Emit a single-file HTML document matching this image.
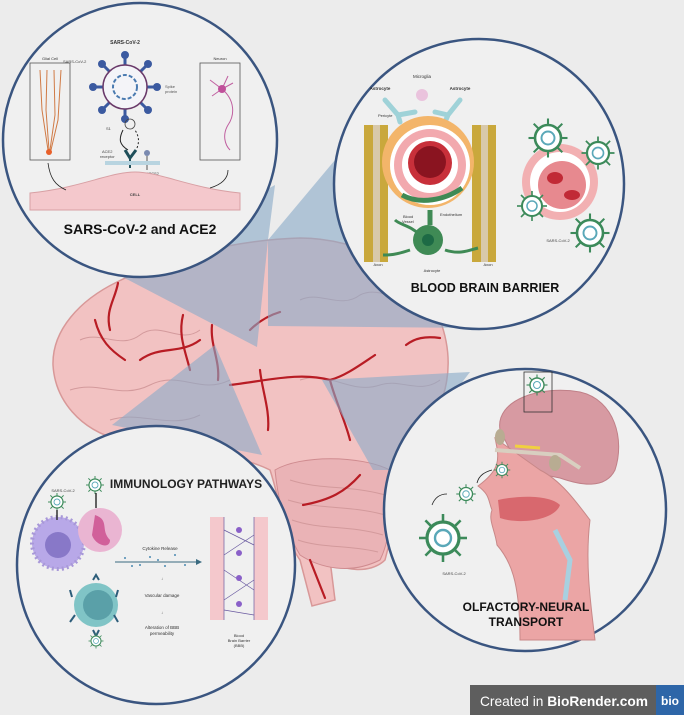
<!DOCTYPE html>
<html><head><meta charset="utf-8"><style>
html,body{margin:0;padding:0;background:#ececec;}
svg{display:block;font-family:"Liberation Sans",sans-serif;}
</style></head><body>
<svg width="684" height="715" viewBox="0 0 684 715" xmlns="http://www.w3.org/2000/svg">
<rect width="684" height="715" fill="#ececec"/>
<defs>
<g id="vir"><circle r="10" fill="#fff" stroke="#3c8a5a" stroke-width="2"/><g stroke="#3c8a5a" stroke-width="1.6"><line x1="0" y1="-10" x2="0" y2="-15"/><line x1="0" y1="10" x2="0" y2="15"/><line x1="-10" y1="0" x2="-15" y2="0"/><line x1="10" y1="0" x2="15" y2="0"/><line x1="7" y1="7" x2="11" y2="11"/><line x1="-7" y1="7" x2="-11" y2="11"/><line x1="7" y1="-7" x2="11" y2="-11"/><line x1="-7" y1="-7" x2="-11" y2="-11"/></g><circle r="5" fill="none" stroke="#5aa8b8" stroke-width="1.5"/></g>
</defs>

<!-- Brain -->
<g>
<path d="M117,282 C160,260 230,240 300,238 C360,238 420,270 440,320 C455,360 450,400 420,440 C410,470 395,520 385,560 C370,575 340,570 330,560 L335,600 L312,606 L300,560 C285,540 280,500 270,470 C230,450 170,450 120,440 C80,430 55,400 53,365 C52,330 80,300 117,282 Z" fill="#f2c2c2" stroke="#d89898" stroke-width="1.5"/>
<path d="M275,470 C300,455 360,455 390,470 C395,500 390,540 380,560 C350,575 320,568 300,555 C285,530 278,500 275,470Z" fill="#eab3b6" stroke="#cf8b8f"/>
<g fill="none" stroke="#d39a9c" stroke-width="1">
<path d="M80,340 C100,330 120,350 140,335 C160,320 180,345 200,330"/>
<path d="M70,390 C100,380 120,400 150,385 C180,370 200,395 230,380"/>
<path d="M110,420 C140,410 170,430 200,415"/>
<path d="M300,300 C320,290 340,310 360,295 C380,285 400,305 420,300"/>
<path d="M300,380 C330,370 350,395 380,385 C400,378 420,395 440,380"/>
<path d="M290,480 C320,490 350,485 385,495"/><path d="M288,500 C320,510 350,505 385,515"/><path d="M292,520 C320,530 350,525 383,535"/><path d="M298,540 C320,548 350,545 378,552"/>
</g>
<g fill="none" stroke="#b81c24" stroke-width="2.2" stroke-linecap="round">
<path d="M118,283 C115,300 105,310 110,330"/><path d="M95,320 C100,340 110,350 125,360"/>
<path d="M183,315 C178,335 185,350 190,370"/><path d="M212,325 C210,345 220,360 218,380"/>
<path d="M230,385 C270,380 300,372 330,380 C345,376 360,365 375,355"/>
<path d="M330,380 C335,400 345,420 350,440"/><path d="M260,370 C262,390 270,410 268,430"/>
<path d="M250,330 C260,320 270,315 280,312"/><path d="M406,345 C415,338 425,336 440,338"/>
<path d="M303,505 C330,500 345,492 360,475"/><path d="M310,560 L325,598"/>
<path d="M140,360 C160,345 180,355 200,340"/>
</g>
</g>

<!-- wedges -->
<g fill="#88aac8" fill-opacity="0.6">
<polygon points="113,272 275,185 268,240 257,347"/>
<polygon points="268,240 335,160 480,328 268,326"/>
<polygon points="215,345 112,425 262,455"/>
<polygon points="322,380 470,372 395,470 373,470"/>
</g>

<!-- Circles -->
<g fill="#f0f0f0" stroke="#3a5580" stroke-width="2.5">
<circle cx="140" cy="140" r="137"/>
<circle cx="479" cy="184" r="145"/>
<circle cx="156" cy="565" r="139"/>
<circle cx="525" cy="510" r="141"/>
</g>

<!-- TL content -->
<g>
<text x="125" y="44" font-size="5" text-anchor="middle" font-weight="bold" fill="#333">SARS-CoV-2</text>
<rect x="30" y="63" width="40" height="97" fill="none" stroke="#555" stroke-width="0.8"/>
<text x="50" y="60" font-size="4" text-anchor="middle" fill="#333">Glial Cell</text>
<g stroke="#d07a45" stroke-width="1" fill="none"><path d="M40,70 L42,110 L48,150"/><path d="M47,70 L46,110 L49,150"/><path d="M54,70 L55,115 L50,150"/><path d="M61,70 L58,120 L51,150"/></g>
<circle cx="49" cy="152" r="3" fill="#e8602a"/>
<rect x="200" y="63" width="40" height="97" fill="none" stroke="#555" stroke-width="0.8"/>
<text x="220" y="60" font-size="4" text-anchor="middle" fill="#333">Neuron</text>
<g stroke="#c060a0" stroke-width="1" fill="none"><path d="M222,89 C235,100 235,115 228,125 C222,135 225,145 230,150"/><path d="M222,89 L210,80 M222,89 L212,96 M222,89 L228,76 M222,89 L233,83"/></g>
<circle cx="222" cy="89" r="4" fill="#c0509a"/>
<g stroke="#3b5aa0" stroke-width="3">
<line x1="125" y1="87" x2="125" y2="55"/><line x1="125" y1="87" x2="125" y2="119"/><line x1="125" y1="87" x2="93" y2="87"/><line x1="125" y1="87" x2="157" y2="87"/><line x1="125" y1="87" x2="102" y2="64"/><line x1="125" y1="87" x2="148" y2="64"/><line x1="125" y1="87" x2="102" y2="110"/><line x1="125" y1="87" x2="148" y2="110"/>
</g>
<g fill="#3b5aa0"><circle cx="125" cy="55" r="4"/><circle cx="125" cy="119" r="4"/><circle cx="93" cy="87" r="4"/><circle cx="157" cy="87" r="4"/><circle cx="102" cy="64" r="4"/><circle cx="148" cy="64" r="4"/><circle cx="102" cy="110" r="4"/><circle cx="148" cy="110" r="4"/></g>
<circle cx="125" cy="87" r="22" fill="#f4f4f8" stroke="#6a3a6a" stroke-width="1.5"/>
<circle cx="125" cy="87" r="12" fill="none" stroke="#4a7ab0" stroke-width="2" stroke-dasharray="4 2"/>
<text x="63" y="63" font-size="4" fill="#444">SARS-CoV-2</text>
<text x="165" y="88" font-size="4" fill="#555">Spike</text><text x="165" y="93" font-size="4" fill="#555">protein</text>
<circle cx="130" cy="124" r="5" fill="none" stroke="#444" stroke-width="0.8"/>
<text x="106" y="130" font-size="4" fill="#444">S1</text>
<path d="M123,130 C118,140 120,145 128,150" fill="none" stroke="#222"/>
<path d="M137,148 C140,140 138,135 135,130" fill="none" stroke="#222" stroke-dasharray="2 2"/>
<path d="M125,150 L130,158 L136,150" fill="none" stroke="#1f4f5a" stroke-width="3"/>
<line x1="130" y1="158" x2="130" y2="168" stroke="#1f4f5a" stroke-width="2"/>
<circle cx="147" cy="153" r="3" fill="#7a8ab0"/><line x1="147" y1="156" x2="147" y2="170" stroke="#555"/>
<text x="102" y="153" font-size="4" fill="#444">ACE2</text><text x="100" y="158" font-size="4" fill="#444">receptor</text>
<rect x="105" y="161" width="55" height="4" fill="#b8d4e0"/>
<text x="140" y="175" font-size="4" fill="#444">TMPRSS2</text>
<path d="M30,193 C80,188 110,172 135,172 C160,172 190,188 240,193 L240,210 L30,210 Z" fill="#f4c8cc" stroke="#d8a0a4"/>
<text x="135" y="196" font-size="4" font-weight="bold" text-anchor="middle" fill="#444">CELL</text>
<path d="M48,163 C50,178 55,185 66,190" fill="none" stroke="#222" stroke-width="0.8"/>
<path d="M228,170 C228,180 220,185 210,188" fill="none" stroke="#222" stroke-width="0.8"/>
<text x="140" y="234" font-size="14" font-weight="bold" text-anchor="middle" fill="#111">SARS-CoV-2 and ACE2</text>
</g>

<!-- BBB content -->
<g>
<text x="422" y="78" font-size="4.5" text-anchor="middle" fill="#333">Microglia</text>
<text x="380" y="90" font-size="4.5" font-weight="bold" text-anchor="middle" fill="#333">Astrocyte</text>
<text x="460" y="90" font-size="4.5" font-weight="bold" text-anchor="middle" fill="#333">Astrocyte</text>
<text x="378" y="117" font-size="4" fill="#333">Pericyte</text>
<circle cx="422" cy="95" r="6" fill="#eac3dd"/>
<path d="M385,100 L398,115 L415,112 M398,115 L400,122" fill="none" stroke="#9fd2d8" stroke-width="5" stroke-linecap="round"/>
<path d="M460,100 L448,115 L435,112 M448,115 L445,122" fill="none" stroke="#9fd2d8" stroke-width="5" stroke-linecap="round"/>
<rect x="364" y="125" width="24" height="137" fill="#c9a83c"/><rect x="373" y="125" width="7" height="137" fill="#d8c9aa"/>
<rect x="472" y="125" width="24" height="137" fill="#c9a83c"/><rect x="481" y="125" width="7" height="137" fill="#d8c9aa"/>
<circle cx="428" cy="162" r="46" fill="#f3b56a"/>
<circle cx="430" cy="165" r="40" fill="#fff"/>
<circle cx="430" cy="165" r="36" fill="#f2a9ae"/>
<circle cx="430" cy="165" r="28" fill="#fff"/>
<circle cx="430" cy="163" r="22" fill="#c8303a"/>
<circle cx="430" cy="162" r="16" fill="#8a1420"/>
<path d="M402,195 C420,205 445,200 462,188 M430,210 L430,225" fill="none" stroke="#3f8a55" stroke-width="5"/>
<path d="M410,250 C395,255 390,255 383,255 M445,250 C460,255 470,250 478,248 M420,235 C410,225 400,225 395,220" fill="none" stroke="#3f8a55" stroke-width="3"/>
<circle cx="428" cy="240" r="15" fill="#3f8a55"/><circle cx="428" cy="240" r="6" fill="#1d6a45"/>
<text x="403" y="218" font-size="4" fill="#333">Blood</text><text x="402" y="223" font-size="4" fill="#333">Vessel</text>
<text x="440" y="216" font-size="4" fill="#333">Endothelium</text>
<text x="378" y="266" font-size="4" text-anchor="middle" fill="#333">Axon</text>
<text x="488" y="266" font-size="4" text-anchor="middle" fill="#333">Axon</text>
<text x="432" y="272" font-size="4" text-anchor="middle" fill="#333">Astrocyte</text>
<circle cx="560" cy="182" r="38" fill="#f2b0b2"/>
<circle cx="560" cy="182" r="30" fill="#fff"/>
<circle cx="562" cy="185" r="24" fill="#e7898f"/>
<ellipse cx="555" cy="178" rx="8" ry="6" fill="#c12a36"/><ellipse cx="572" cy="195" rx="8" ry="5" fill="#c12a36"/>
<use href="#vir" transform="translate(548,138) scale(1.3)"/>
<use href="#vir" transform="translate(598,153) scale(1.1)"/>
<use href="#vir" transform="translate(532,206) scale(1)"/>
<use href="#vir" transform="translate(590,233) scale(1.3)"/>
<text x="558" y="242" font-size="4" text-anchor="middle" fill="#444">SARS-CoV-2</text>
<text x="485" y="292" font-size="12.5" font-weight="bold" text-anchor="middle" fill="#111">BLOOD BRAIN BARRIER</text>
</g>

<!-- Immunology content -->
<g>
<text x="186" y="488" font-size="12" font-weight="bold" text-anchor="middle" fill="#222">IMMUNOLOGY PATHWAYS</text>
<text x="63" y="492" font-size="4" text-anchor="middle" fill="#444">SARS-CoV-2</text>
<use href="#vir" transform="translate(57,502) scale(0.6)"/>
<use href="#vir" transform="translate(95,485) scale(0.6)"/>
<circle cx="58" cy="543" r="26" fill="#b8a8e8" stroke="#a898d8" stroke-width="4" stroke-dasharray="2 3"/>
<circle cx="58" cy="545" r="13" fill="#8878c8"/>
<line x1="57" y1="510" x2="57" y2="520" stroke="#333" stroke-width="1.5"/>
<circle cx="100" cy="530" r="22" fill="#eab5d2"/>
<path d="M95,515 C110,520 100,530 110,540 C110,550 95,545 92,535 Z" fill="#d1609a"/>
<line x1="96" y1="493" x2="96" y2="508" stroke="#333" stroke-width="1.5"/>
<circle cx="96" cy="605" r="22" fill="#80c4c6"/><circle cx="98" cy="605" r="15" fill="#5aa0a8"/>
<g stroke="#2d5d7a" stroke-width="2" fill="none"><path d="M93,580 L96,575 L99,580"/><path d="M70,590 L72,597"/><path d="M118,590 L116,597"/><path d="M70,622 L75,615"/><path d="M118,622 L114,615"/><path d="M93,630 L96,636 L99,630"/></g>
<use href="#vir" transform="translate(96,641) scale(0.5)"/>
<text x="160" y="550" font-size="4.5" text-anchor="middle" fill="#333">Cytokine Release</text>
<line x1="115" y1="562" x2="200" y2="562" stroke="#3a6a80" stroke-width="1"/>
<path d="M196,559 L202,562 L196,565 Z" fill="#3a6a80"/>
<g fill="#4a8ab0"><circle cx="125" cy="558" r="1"/><circle cx="140" cy="565" r="1"/><circle cx="150" cy="557" r="1"/><circle cx="165" cy="566" r="1"/><circle cx="175" cy="555" r="1"/><circle cx="185" cy="565" r="1"/><circle cx="132" cy="566" r="1"/><circle cx="158" cy="560" r="1"/></g>
<text x="161" y="580" font-size="4" fill="#333">↓</text>
<text x="162" y="597" font-size="4.5" text-anchor="middle" fill="#333">Vascular damage</text>
<text x="161" y="614" font-size="4" fill="#333">↓</text>
<text x="162" y="629" font-size="4.5" text-anchor="middle" fill="#333">Alteration of BBB</text>
<text x="162" y="635" font-size="4.5" text-anchor="middle" fill="#333">permeability</text>
<rect x="210" y="517" width="14" height="103" fill="#f4c8cc"/><rect x="254" y="517" width="14" height="103" fill="#f4c8cc"/>
<g stroke="#6a5aa0" stroke-width="0.7" fill="none"><line x1="224" y1="517" x2="224" y2="620"/><line x1="254" y1="517" x2="254" y2="620"/><path d="M224,530 L254,545 M224,555 L254,535 M224,570 L254,590 M224,600 L254,580 M224,610 L254,615"/></g>
<g fill="#8a60c8"><circle cx="239" cy="530" r="3"/><circle cx="239" cy="553" r="3"/><circle cx="239" cy="578" r="3"/><circle cx="239" cy="604" r="3"/></g>
<text x="239" y="637" font-size="4" text-anchor="middle" fill="#333">Blood</text>
<text x="239" y="642" font-size="4" text-anchor="middle" fill="#333">Brain Barrier</text>
<text x="239" y="647" font-size="4" text-anchor="middle" fill="#333">(BBB)</text>
</g>

<!-- Olfactory content -->
<g>
<path d="M500,430 C495,400 540,385 580,392 C615,400 625,440 615,470 C605,490 580,485 560,478 L520,470 Z" fill="#d79aa2" stroke="#c08088"/>
<path d="M495,438 C500,460 500,470 478,486 C490,495 488,500 492,510 C488,520 495,530 497,545 C510,560 520,580 520,640 L595,640 C590,600 585,560 590,520 C575,500 560,480 540,470 Z" fill="#eba5a5" stroke="#c88888"/>
<path d="M495,450 L560,455 L580,468" fill="none" stroke="#d8cfc0" stroke-width="4"/>
<ellipse cx="500" cy="437" rx="5" ry="8" fill="#b8ac92"/><ellipse cx="555" cy="463" rx="6" ry="8" fill="#b8ac92"/>
<path d="M515,446 L540,448" stroke="#f0d040" stroke-width="3"/>
<path d="M498,500 C520,495 550,495 560,505 C555,520 520,525 500,518 Z" fill="#d8686e"/>
<path d="M555,530 L570,560 L565,600" fill="none" stroke="#a8d0e0" stroke-width="5"/>
<rect x="524" y="372" width="28" height="40" fill="none" stroke="#333" stroke-width="0.8"/>
<use href="#vir" transform="translate(537,385) scale(0.7)"/>
<use href="#vir" transform="translate(502,470) scale(0.55)"/>
<use href="#vir" transform="translate(466,494) scale(0.65)"/>
<use href="#vir" transform="translate(443,538) scale(1.6)"/>
<path d="M432,505 C435,497 440,494 447,494" fill="none" stroke="#222" stroke-width="0.8"/>
<path d="M477,483 C479,475 485,472 492,470" fill="none" stroke="#222" stroke-width="0.8"/>
<text x="454" y="575" font-size="4" text-anchor="middle" fill="#444">SARS-CoV-2</text>
<text x="526" y="611" font-size="12" font-weight="bold" text-anchor="middle" fill="#111">OLFACTORY-NEURAL</text>
<text x="526" y="626" font-size="12" font-weight="bold" text-anchor="middle" fill="#111">TRANSPORT</text>
</g>

<!-- badge -->
<rect x="470" y="685" width="186" height="30" fill="#5e5e5e"/>
<rect x="656" y="685" width="28" height="30" fill="#2e66a8"/>
<text x="480" y="706" font-size="14" fill="#fff" textLength="168" lengthAdjust="spacingAndGlyphs">Created in <tspan font-weight="bold">BioRender.com</tspan></text>
<text x="670" y="705" font-size="12" font-weight="bold" text-anchor="middle" fill="#fff">bio</text>
</svg>
</body></html>
